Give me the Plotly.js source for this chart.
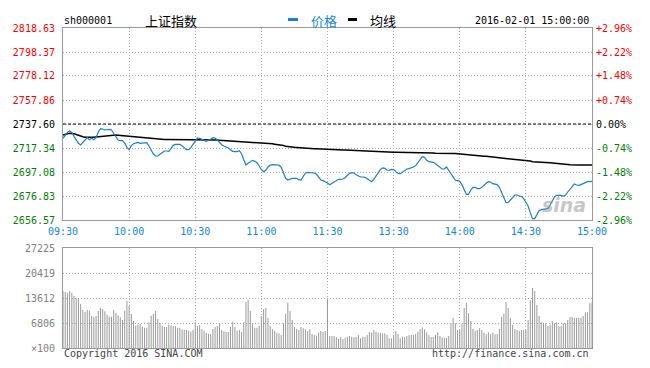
<!DOCTYPE html>
<html><head><meta charset="utf-8">
<script src="https://cdn.plot.ly/plotly-3.0.1.min.js"></script>
<style>html,body{margin:0;padding:0;background:#fff}#chart{width:650px;height:368px}</style>
</head><body><div id="chart"></div>
<script>
const symbol = "sh000001";
const indexName = "上证指数";
const legendPrice = "价格";
const legendAvg = "均线";
const dateTime = "2016-02-01 15:00:00";
const copyright = "Copyright 2016 SINA.COM";
const siteUrl = "http://finance.sina.com.cn";
const prevClose = 2737.60;
const timeTickMinutes = [0,30,60,90,120,150,180,210,240];
const timeLabels = ["09:30","10:00","10:30","11:00","11:30","13:30","14:00","14:30","15:00"];
const priceTicks = [2656.57,2676.83,2697.08,2717.34,2737.60,2757.86,2778.12,2798.37,2818.63];
const priceLabels = ["2656.57","2676.83","2697.08","2717.34","2737.60","2757.86","2778.12","2798.37","2818.63"];
const pctLabels = ["-2.96%","-2.22%","-1.48%","-0.74%","0.00%","+0.74%","+1.48%","+2.22%","+2.96%"];
const volTicks = [0,6806.25,13612.5,20418.75,27225];
const volLabels = ["×100","6806","13612","20419","27225"];

const price = [
2725.51,2728.60,2730.57,2731.69,2730.57,2727.19,2723.54,2721.28,2719.88,2721.85,
2724.10,2726.07,2724.38,2725.51,2724.38,2726.07,2730.85,2733.66,2733.38,2732.54,
2732.82,2733.10,2732.54,2729.73,2726.35,2724.10,2723.54,2723.54,2721.57,2717.91,
2715.94,2719.32,2721.00,2721.57,2722.13,2721.28,2721.57,2721.85,2721.85,2719.03,
2715.66,2712.28,2710.59,2710.59,2712.00,2713.41,2714.81,2714.81,2714.53,2716.78,
2719.60,2720.44,2720.72,2720.44,2719.32,2717.91,2715.94,2715.94,2717.63,2720.44,
2723.25,2725.79,2725.51,2724.66,2723.25,2722.97,2724.10,2724.66,2726.07,2725.79,
2724.10,2721.85,2720.16,2719.03,2718.47,2717.35,2715.94,2714.53,2714.25,2714.25,
2715.10,2712.56,2707.50,2703.00,2704.40,2706.09,2706.94,2706.09,2704.97,2702.15,
2699.06,2697.37,2698.50,2701.31,2703.00,2703.30,2703.00,2702.80,2703.00,2701.03,
2695.96,2691.74,2690.34,2691.18,2691.74,2691.74,2691.74,2690.62,2690.34,2693.43,
2696.24,2696.81,2696.81,2696.53,2696.24,2695.12,2693.15,2690.34,2689.77,2688.93,
2687.80,2686.40,2687.52,2689.21,2690.34,2690.90,2690.90,2691.18,2692.31,2694.56,
2695.96,2696.53,2696.24,2694.84,2693.71,2692.87,2692.87,2692.59,2691.46,2690.34,
2688.93,2690.90,2693.71,2697.09,2699.34,2700.47,2700.18,2698.78,2698.50,2699.34,
2699.06,2697.37,2695.96,2695.68,2697.09,2698.21,2699.62,2699.90,2700.47,2701.31,
2702.43,2704.97,2707.22,2710.03,2709.47,2706.94,2705.81,2705.81,2705.25,2704.12,
2702.72,2701.59,2699.62,2699.62,2701.31,2698.50,2695.40,2692.02,2690.06,2689.77,
2689.21,2686.40,2681.61,2678.24,2678.24,2681.90,2684.15,2684.15,2683.02,2683.02,
2684.15,2686.12,2687.52,2688.93,2688.65,2687.24,2686.96,2686.40,2684.15,2679.36,
2675.14,2671.20,2671.49,2673.46,2675.99,2677.68,2677.68,2677.11,2676.27,2674.58,
2671.77,2668.39,2662.76,2657.70,2657.70,2661.64,2664.45,2665.30,2665.58,2665.58,
2666.14,2669.24,2673.17,2676.27,2677.39,2677.68,2677.39,2676.83,2677.39,2680.21,
2682.46,2685.27,2686.96,2686.12,2685.84,2686.40,2686.96,2688.09,2688.93,2689.21,
2689.21];

const avgPrice = [
2728.3,2729.0,2729.4,2729.7,2729.6,2729.3,2728.7,2727.9,2727.4,2726.8,
2726.4,2726.3,2726.3,2726.4,2726.5,2726.7,2726.9,2727.2,2727.5,2727.8,
2727.9,2728.0,2728.2,2728.3,2728.3,2728.2,2728.0,2727.8,2727.5,2727.3,
2727.2,2727.1,2727.0,2726.8,2726.6,2726.3,2726.1,2725.9,2725.6,2725.4,
2725.2,2725.0,2724.8,2724.7,2724.6,2724.6,2724.6,2724.6,2724.6,2724.6,
2724.6,2724.6,2724.6,2724.6,2724.6,2724.6,2724.6,2724.6,2724.5,2724.4,
2724.3,2724.2,2724.1,2724.1,2724.1,2724.1,2724.1,2724.1,2724.1,2724.1,
2724.0,2723.8,2723.7,2723.5,2723.4,2723.2,2723.1,2723.0,2722.9,2722.8,
2722.7,2722.7,2722.6,2722.5,2722.4,2722.3,2722.2,2722.1,2722.0,2721.8,
2721.7,2721.5,2721.4,2721.3,2721.1,2720.9,2720.6,2720.4,2720.1,2719.9,
2719.4,2718.9,2718.5,2718.3,2718.1,2717.9,2717.8,2717.6,2717.5,2717.3,
2717.2,2717.1,2717.0,2716.9,2716.8,2716.7,2716.6,2716.5,2716.3,2716.1,
2715.9,2715.7,2715.7,2715.7,2715.7,2715.7,2715.7,2715.7,2715.7,2715.6,
2715.5,2715.3,2715.0,2714.8,2714.7,2714.6,2714.5,2714.4,2714.3,2714.2,
2714.1,2714.0,2713.9,2713.8,2713.7,2713.7,2713.7,2713.7,2713.7,2713.7,
2713.7,2713.7,2713.7,2713.7,2713.7,2713.7,2713.7,2713.7,2713.7,2713.7,
2713.7,2713.7,2713.7,2713.6,2713.5,2713.4,2713.3,2713.2,2713.1,2713.0,
2712.9,2712.8,2712.8,2712.8,2712.8,2712.8,2712.8,2712.8,2712.8,2712.6,
2712.3,2712.0,2711.7,2711.4,2711.2,2711.0,2710.9,2710.8,2710.7,2710.6,
2710.5,2710.4,2710.3,2710.1,2710.0,2709.9,2709.8,2709.6,2709.5,2709.2,
2708.9,2708.6,2708.4,2708.3,2708.1,2707.9,2707.8,2707.6,2707.5,2707.3,
2707.2,2706.8,2706.3,2705.8,2705.6,2705.5,2705.4,2705.2,2705.1,2705.0,
2704.9,2704.8,2704.7,2704.6,2704.5,2704.4,2704.2,2704.0,2703.8,2703.5,
2703.2,2703.0,2703.0,2703.0,2703.0,2703.0,2703.0,2703.0,2703.0,2703.0,
2703.0];

const volume = [
15500,15246,15064,15518,15064,14157,13522,13522,11979,10346,
9801,10346,10164,8712,8440,8712,10073,10890,10618,9983,
9075,8531,8531,10346,9620,8894,8349,7623,10073,12796,
11435,9257,7351,6080,6353,6625,5808,5536,5536,6988,
8803,9257,10073,7895,6897,6080,5717,5717,6353,6171,
5990,5990,5536,5536,5082,4901,4901,4719,4447,4901,
7169,5990,6171,5173,4719,4175,3902,3812,5173,5717,
5990,6716,4901,4538,4356,4356,5717,7169,5808,4719,
4901,4356,6988,12524,13068,10073,6534,5536,5536,5990,
8712,10527,10890,8168,5990,5082,4719,4175,3993,3539,
6716,9347,12342,10073,7623,5717,5173,4901,5717,5354,
5082,4628,5082,3812,3539,3358,4175,4628,4356,4628,
13068,3267,3267,3267,2904,2450,2904,2450,2813,3086,
3267,3086,2904,3086,3539,2632,3086,3086,3539,4356,
4175,4901,4447,4175,4175,3993,3993,3539,2632,2632,
3539,4628,3812,2632,3086,2904,3267,3539,3539,3539,
3812,4447,5173,5627,5082,4265,3539,2995,2995,3539,
4265,3267,2904,2723,2723,3267,6716,8168,6716,4901,
4901,6534,10890,12251,9438,7351,5173,4719,4901,5354,
4901,4175,3721,4265,3812,4175,3721,3812,5173,8440,
9347,12524,10890,8077,6262,5173,4901,4628,4901,4901,
4901,7623,13068,16335,15518,11707,8712,7079,6897,6716,
5990,6353,7260,6716,6988,5990,5990,6716,6716,7623,
8440,8440,8168,8168,8168,8260,8712,9710,9710,12170,
12400];

const minutes = price.map((_, i) => i);

const RED = "#ff0000", GREEN = "#008000", BLACK = "#000000";
const BLUE_LINE = "#1a80d0", BLUE_TEXT = "#1088dc", GRID = "#aaaaaa", FRAME = "#999999";
const MONO = "DejaVu Sans Mono, Liberation Mono, monospace";
const CJK = "Noto Sans CJK SC, sans-serif";

function colorFor(p){ return p > prevClose ? RED : (p < prevClose ? GREEN : BLACK); }
const priceTickText = priceTicks.map((p,i) => `<span style="color:${colorFor(p)}">${priceLabels[i]}</span>`);
const pctTickText = priceTicks.map((p,i) => `<span style="color:${colorFor(p)}">${pctLabels[i]}</span>`);
const pctTicks = priceTicks.map(p => (p - prevClose) / prevClose * 100);
const pLo = priceTicks[0], pHi = priceTicks[priceTicks.length - 1];

const traces = [
  { type: "bar", x: minutes, y: volume, xaxis: "x2", yaxis: "y2",
    marker: { color: "#999999", line: { width: 0 } }, width: 0.45, hoverinfo: "skip", showlegend: false },
  { type: "scatter", mode: "lines", x: minutes, y: avgPrice, xaxis: "x", yaxis: "y",
    line: { color: BLACK, width: 1.5, shape: "linear" }, hoverinfo: "skip", showlegend: false },
  { type: "scatter", mode: "lines", x: minutes, y: price, xaxis: "x", yaxis: "y",
    line: { color: BLUE_LINE, width: 1.2 }, hoverinfo: "skip", showlegend: false },
  { type: "scatter", mode: "lines", x: [timeTickMinutes[0]], y: [pctTicks[0]], xaxis: "x", yaxis: "y3",
    line: { width: 0 }, hoverinfo: "skip", showlegend: false }
];

const W = 650, H = 368, L = 63, R = 58, T = 28, B = 20;
const pw = W - L - R, ph = H - T - B;
const px = v => (v - L) / pw;
const py = v => (H - B - v) / ph;

const gridCommon = { showgrid: true, gridcolor: GRID, gridwidth: 1, griddash: "1px,2px",
  showline: true, mirror: true, linecolor: FRAME, linewidth: 1, zeroline: false, fixedrange: true };

const layout = {
  width: W, height: H,
  margin: { l: L, r: R, t: T, b: B, pad: 0 },
  paper_bgcolor: "#ffffff", plot_bgcolor: "#ffffff",
  showlegend: false, hovermode: false,
  font: { family: MONO, size: 10, color: BLACK },
  xaxis: Object.assign({}, gridCommon, { domain: [0, 1], anchor: "y", range: [timeTickMinutes[0], timeTickMinutes[timeTickMinutes.length-1]],
    tickmode: "array", tickvals: timeTickMinutes, ticktext: timeLabels, ticks: "",
    tickfont: { family: MONO, size: 10, color: BLUE_TEXT }, ticklabelstandoff: 2 }),
  xaxis2: Object.assign({}, gridCommon, { domain: [0, 1], anchor: "y2", matches: "x",
    tickmode: "array", tickvals: timeTickMinutes, showticklabels: false, ticks: "" }),
  yaxis: Object.assign({}, gridCommon, { domain: [0.4, 1], anchor: "x", range: [pLo, pHi],
    tickmode: "array", tickvals: priceTicks, ticktext: priceTickText, ticks: "",
    tickfont: { family: MONO, size: 10 }, ticklabelstandoff: 5 }),
  yaxis2: Object.assign({}, gridCommon, { domain: [0, 0.3125], anchor: "x2", range: [volTicks[0], volTicks[volTicks.length-1]],
    tickmode: "array", tickvals: volTicks, ticktext: volLabels, ticks: "",
    tickfont: { family: MONO, size: 10, color: "#808080" }, ticklabelstandoff: 5 }),
  yaxis3: { overlaying: "y", side: "right", anchor: "x", range: [pctTicks[0], pctTicks[pctTicks.length-1]],
    tickmode: "array", tickvals: pctTicks, ticktext: pctTickText, ticks: "", showgrid: false, zeroline: false,
    showline: false, tickfont: { family: MONO, size: 10 }, ticklabelstandoff: 3, fixedrange: true },
  shapes: [
    { type: "line", xref: "x", yref: "y", x0: timeTickMinutes[0], x1: timeTickMinutes[timeTickMinutes.length-1],
      y0: prevClose, y1: prevClose, line: { color: BLACK, width: 1, dash: "3px,2px" } },
    { type: "line", xref: "paper", yref: "paper", x0: px(288), x1: px(298), y0: py(19.5), y1: py(19.5),
      line: { color: BLUE_LINE, width: 3 } },
    { type: "line", xref: "paper", yref: "paper", x0: px(348), x1: px(357), y0: py(19.5), y1: py(19.5),
      line: { color: BLACK, width: 3 } }
  ],
  annotations: [
    { text: symbol, xref: "paper", yref: "paper", x: px(62), y: py(20), xanchor: "left", yanchor: "middle",
      showarrow: false, font: { family: MONO, size: 10, color: BLACK } },
    { text: indexName, xref: "paper", yref: "paper", x: px(143), y: py(20), xanchor: "left", yanchor: "middle",
      showarrow: false, font: { family: CJK, size: 13, color: BLACK } },
    { text: legendPrice, xref: "paper", yref: "paper", x: px(309), y: py(20), xanchor: "left", yanchor: "middle",
      showarrow: false, font: { family: CJK, size: 13, color: BLUE_TEXT } },
    { text: legendAvg, xref: "paper", yref: "paper", x: px(368), y: py(20), xanchor: "left", yanchor: "middle",
      showarrow: false, font: { family: CJK, size: 13, color: BLACK } },
    { text: dateTime, xref: "paper", yref: "paper", x: px(591), y: py(20), xanchor: "right", yanchor: "middle",
      showarrow: false, font: { family: MONO, size: 10, color: BLACK } },
    { text: copyright, xref: "paper", yref: "paper", x: px(62), y: py(353), xanchor: "left", yanchor: "middle",
      showarrow: false, font: { family: MONO, size: 10, color: "#444444" } },
    { text: siteUrl, xref: "paper", yref: "paper", x: px(591), y: py(353), xanchor: "right", yanchor: "middle",
      showarrow: false, font: { family: MONO, size: 10, color: "#444444" } },
    { text: "sina", xref: "paper", yref: "paper", x: px(588), y: py(205), xanchor: "right", yanchor: "middle",
      showarrow: false, font: { family: "DejaVu Sans, sans-serif", size: 19, color: "rgba(150,150,150,0.55)", style: "italic", weight: "bold" } }
  ]
};

Plotly.newPlot("chart", traces, layout, { staticPlot: true, displayModeBar: false });
</script>
</body></html>
